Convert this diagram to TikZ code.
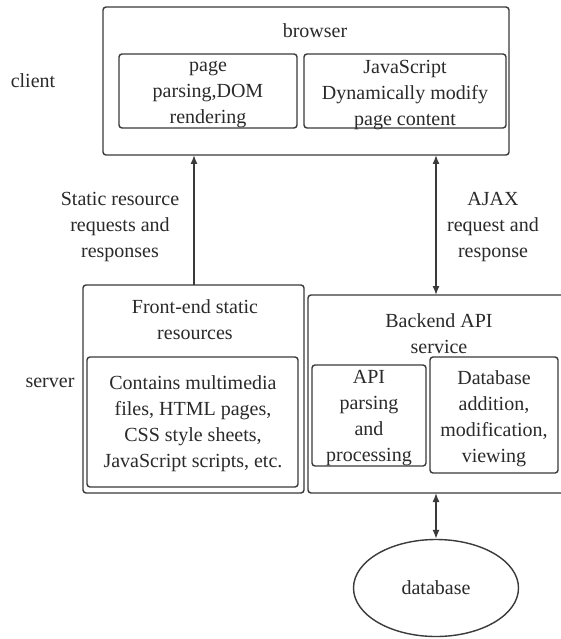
\documentclass[tikz,border=0pt]{standalone}
\usepackage{fontspec}
\setmainfont{Liberation Serif}
\usetikzlibrary{arrows.meta,shapes.geometric}
\definecolor{ink}{HTML}{2A2A2A}
\definecolor{edge}{HTML}{3A3A3A}
\begin{document}
\begin{tikzpicture}[x=1pt,y=-1pt,
  every node/.style={text=ink,font=\fontsize{20}{26}\selectfont,align=center,inner sep=0pt},
  box/.style={draw=edge,line width=1.4pt,rounded corners=3pt,minimum width=#1},
  arr/.style={draw=edge,line width=1.4pt,-{Latex[length=9pt,width=7pt]}},
  darr/.style={draw=edge,line width=1.4pt,{Latex[length=9pt,width=7pt]}-{Latex[length=9pt,width=7pt]}}]
\clip (0,0) rectangle (561,639);
\fill[white] (0,0) rectangle (561,639);
% browser
\node[box=406pt,minimum height=148pt] (browser) at (306,81) {};
\node (browsert) at (315,31) {browser};
\node[box=178pt,minimum height=74pt] (page) at (208,91) {};
\node (paget) at (208,95) {page\\parsing,DOM\\rendering};
\node[box=202pt,minimum height=74pt] (js) at (405,91) {};
\node (jst) at (405,95) {JavaScript\\Dynamically modify\\page content};
\node (client) at (33,81) {client};
% front-end
\node[box=221pt,minimum height=208pt] (front) at (193.5,389) {};
\node (frontt) at (195,319.5) {Front-end static\\resources};
\node[box=211pt,minimum height=130pt] (fin) at (192.5,422) {};
\node (fint) at (193,424) {Contains multimedia\\files, HTML pages,\\CSS style sheets,\\JavaScript scripts, etc.};
\node (server) at (50,383) {server};
% backend
\node[box=280pt,minimum height=198pt] (back) at (448,394) {};
\node (backt) at (439,333.5) {Backend API\\service};
\node[box=114pt,minimum height=101pt] (api) at (369,415.5) {};
\node (apit) at (369,418) {API\\parsing\\and\\processing};
\node[box=128pt,minimum height=116pt] (dbop) at (494,415) {};
\node (dbopt) at (494,418.5) {Database\\addition,\\modification,\\viewing};
% database
\node[draw=edge,line width=1.4pt,ellipse,minimum width=165pt,minimum height=97pt] (db) at (436,588) {database};
% connectors
\coordinate (a1) at (194,285);
\coordinate (a2) at (194,155);
\draw[arr] (a1) -- (a2);
\coordinate (b1) at (436,155);
\coordinate (b2) at (436,295);
\draw[darr] (b1) -- (b2);
\coordinate (c1) at (436,493);
\draw[darr] (c1) -- (db.north);
\node (statict) at (120,227) {Static resource\\requests and\\responses};
\node (ajaxt) at (493,227) {AJAX\\request and\\response};
\end{tikzpicture}
\end{document}
